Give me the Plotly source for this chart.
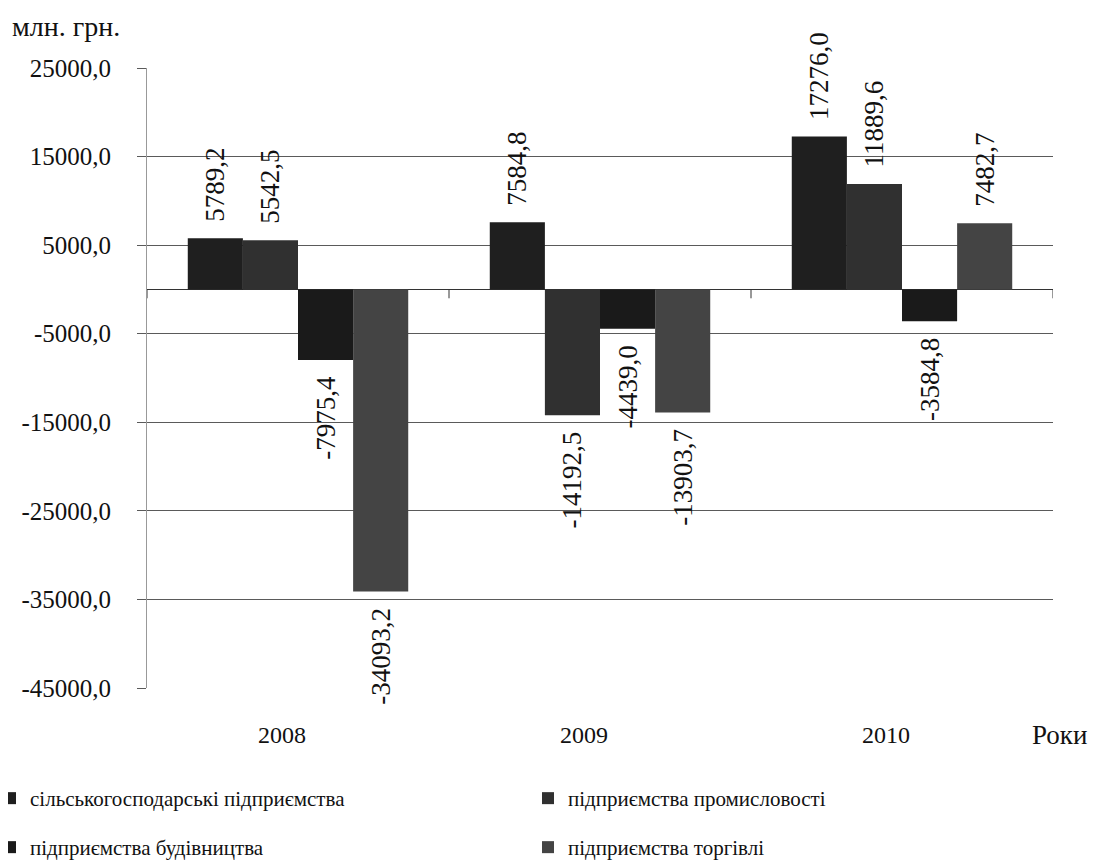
import plotly.graph_objects as go

years = ["2008", "2009", "2010"]
series_names = [
    "сільськогосподарські підприємства",
    "підприємства промисловості",
    "підприємства будівництва",
    "підприємства торгівлі",
]
agri = [5789.2, 7584.8, 17276.0]
industry = [5542.5, -14192.5, 11889.6]
construction = [-7975.4, -4439.0, -3584.8]
trade = [-34093.2, -13903.7, 7482.7]
y_ticks = [25000, 15000, 5000, -5000, -15000, -25000, -35000, -45000]

series_values = [agri, industry, construction, trade]
colors = ["#1f1f1f", "#303030", "#1a1a1a", "#444444"]
legend_ids = ["legend", "legend2", "legend3", "legend4"]

FONT = "Liberation Serif, Times New Roman, serif"
NB = "\u00a0\u00a0"

def fmt(v):
    return f"{v:.1f}".replace(".", ",")

def bar_label(v):
    # pad on the side facing the bar end
    return NB + fmt(v) if v >= 0 else fmt(v) + NB

fig = go.Figure()
for name, vals, col, lg in zip(series_names, series_values, colors, legend_ids):
    fig.add_trace(go.Bar(
        x=years, y=vals, name=name,
        marker=dict(color=col, line=dict(width=0)),
        text=[bar_label(v) for v in vals],
        textposition="outside", textangle=-90,
        textfont=dict(family=FONT, size=27, color="#111"),
        constraintext="none", cliponaxis=False,
        legend=lg,
    ))

# small tick marks on the zero line at category boundaries
for i in range(len(years) + 1):
    fig.add_shape(type="line", xref="x", yref="y", x0=i - 0.5, x1=i - 0.5,
                  y0=0, y1=-1000, line=dict(color="#333", width=1))

# page offset of the figure (default body margin)
OFF = 8
# plot-area geometry in page pixels
L, R, T, B = 147 - OFF, 1053 - OFF, 68 - OFF, 688 - OFF
PW, PH = R - L, B - T
def px_x(p):
    return (p - OFF - L) / PW
def px_y(p):
    return (B - (p - OFF)) / PH

leg_common = dict(orientation="h", xanchor="left", yanchor="top",
                  font=dict(family=FONT, size=21, color="#111"),
                  bgcolor="rgba(0,0,0,0)", itemwidth=30)

fig.update_layout(
    width=1101, height=868,
    margin=dict(l=L, r=1101 - R, t=T, b=868 - B, autoexpand=False),
    paper_bgcolor="white", plot_bgcolor="white",
    barmode="group", bargap=0.27, bargroupgap=0,
    font=dict(family=FONT, size=21, color="#111"),
    showlegend=True,
    legend=dict(x=px_x(-10), y=px_y(778), **leg_common),
    legend2=dict(x=px_x(528), y=px_y(778), **leg_common),
    legend3=dict(x=px_x(-10), y=px_y(827), **leg_common),
    legend4=dict(x=px_x(528), y=px_y(827), **leg_common),
    xaxis=dict(type="category", categoryarray=years, range=[-0.5, 2.5],
               showgrid=False, showline=False, ticks="",
               tickfont=dict(family=FONT, size=24, color="#111"),
               ticklabelstandoff=30, ticklabelshift=-16),
    yaxis=dict(range=[-45000, 25000], tickvals=y_ticks,
               ticktext=[fmt(v) for v in y_ticks],
               showgrid=True, gridcolor="#5a5a5a", gridwidth=1,
               zeroline=True, zerolinecolor="#333", zerolinewidth=1,
               showline=True, linecolor="#999", linewidth=1,
               ticks="outside", ticklen=9, tickcolor="#5a5a5a",
               tickfont=dict(family=FONT, size=25, color="#111"),
               ticklabelstandoff=21),
    annotations=[
        dict(text="млн. грн.", xref="paper", yref="paper", x=px_x(10), y=px_y(27),
             xanchor="left", yanchor="middle", showarrow=False,
             font=dict(family=FONT, size=28, color="#111")),
        dict(text="Роки", xref="paper", yref="paper", x=px_x(1030), y=px_y(735),
             xanchor="left", yanchor="middle", showarrow=False,
             font=dict(family=FONT, size=27, color="#111")),
    ],
)

fig.write_html("out.html")
